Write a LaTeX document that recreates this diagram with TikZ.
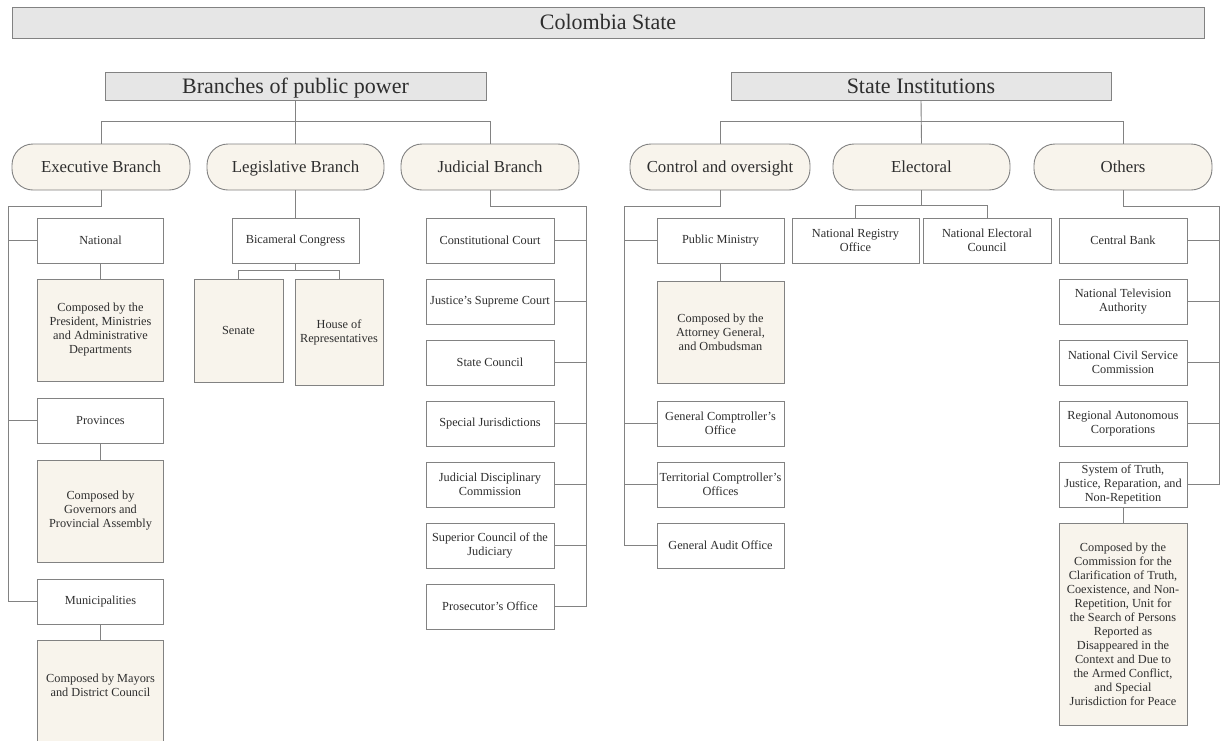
\documentclass[tikz,border=0pt]{standalone}
\usepackage{fontspec}
\setmainfont{Liberation Serif}
\definecolor{lc}{HTML}{828282}
\definecolor{hdfill}{HTML}{E6E6E6}
\definecolor{beige}{HTML}{F8F4EC}
\definecolor{tx}{HTML}{2E2E2E}
\begin{document}
\begin{tikzpicture}[x=1pt,y=-1pt,
  every node/.style={text=tx, inner sep=1pt, align=center},
  hdr/.style={draw=lc, line width=0.9pt, fill=hdfill, font=\fontsize{22}{26}\selectfont, minimum height=#1, text height=17pt, text depth=3pt},
  pill/.style={draw=lc, line width=0.9pt, fill=beige, rounded corners=21pt, minimum height=46pt, minimum width=#1, font=\fontsize{16.8}{20}\selectfont, text height=13pt, text depth=2pt},
  ubox/.style={draw=lc, line width=0.9pt, fill=white, minimum width=#1, minimum height=45pt, font=\fontsize{12.3}{14}\selectfont},
  cbox/.style 2 args={draw=lc, line width=0.9pt, fill=beige, minimum width=#1, minimum height=#2, font=\fontsize{12.3}{14}\selectfont},
  conn/.style={draw=lc, line width=0.9pt}]
\useasboundingbox[fill=white] (0,0) rectangle (1222,740);

% headers
\node[hdr=31pt, minimum width=1192pt] (col) at (608,22.5) {Colombia State};
\node[hdr=28pt, minimum width=381pt] (bpp) at (295.5,86) {Branches of public power};
\node[hdr=28pt, minimum width=380pt] (sti) at (921,86) {State Institutions};

% pills
\node[pill=178pt] (exe) at (101,167) {Executive Branch};
\node[pill=177pt] (leg) at (295.5,167) {Legislative Branch};
\node[pill=178pt] (jud) at (490,167) {Judicial Branch};
\node[pill=180pt] (ctl) at (720,167) {Control and oversight};
\node[pill=177pt] (ele) at (921.5,167) {Electoral};
\node[pill=178pt] (oth) at (1123,167) {Others};

\draw[conn] (bpp.south) -- (leg.north);
\draw[conn] (exe.north) -- ++(0,-22) -| (jud.north);
\draw[conn] (sti.south) -- (ele.north);
\draw[conn] (ctl.north) -- ++(0,-22) -| (oth.north);

% executive
\node[ubox=126pt] (nat) at (100.5,240.5) {National};
\node[cbox={126pt}{102pt}] (natc) at (100.5,330) {Composed by the\\President, Ministries\\and Administrative\\Departments};
\node[ubox=126pt] (prv) at (100.5,420.5) {Provinces};
\node[cbox={126pt}{102pt}] (prvc) at (100.5,511) {Composed by\\Governors and\\Provincial Assembly};
\node[ubox=126pt] (mun) at (100.5,601.5) {Municipalities};
\node[cbox={126pt}{106pt}, anchor=north] (munc) at (100.5,640) {Composed by Mayors\\and District Council\\[2pt]\mbox{}};
\coordinate (etl) at (8,206);
\draw[conn] (exe.south) -- ++(0,16) -| (mun.west -| etl) -- (mun.west);
\draw[conn] (nat.west) -- (nat.west -| etl);
\draw[conn] (prv.west) -- (prv.west -| etl);
\draw[conn] (nat.south) -- (natc.north);
\draw[conn] (prv.south) -- (prvc.north);
\draw[conn] (mun.south) -- (munc.north);

% legislative
\node[ubox=127pt] (bic) at (295.5,240.5) {Bicameral Congress};
\node[cbox={89pt}{103pt}] (sen) at (238.5,330.5) {Senate};
\node[cbox={88pt}{106pt}] (hor) at (339,332) {House of\\Representatives};
\draw[conn] (leg.south) -- (bic.north);
\draw[conn] (bic.south) -- ++(0,8);
\draw[conn] (sen.north) -- ++(0,-8) -| (hor.north);

% judicial
\node[ubox=128pt] (cc) at (490,240.5) {Constitutional Court};
\node[ubox=128pt] (jsc) at (490,301.5) {Justice's Supreme Court};
\node[ubox=128pt] (sc) at (490,362.5) {State Council};
\node[ubox=128pt] (sj) at (490,423.5) {Special Jurisdictions};
\node[ubox=128pt] (jdc) at (490,484.5) {Judicial Disciplinary\\Commission};
\node[ubox=128pt] (scj) at (490,545.5) {Superior Council of the\\Judiciary};
\node[ubox=128pt] (po) at (490,606.5) {Prosecutor's Office};
\coordinate (jtl) at (586,206);
\draw[conn] (jud.south) -- ++(0,16) -| (po.east -| jtl) -- (po.east);
\foreach \n in {cc,jsc,sc,sj,jdc,scj} \draw[conn] (\n.east) -- (\n.east -| jtl);

% control
\node[ubox=127pt] (pm) at (720.5,240.5) {Public Ministry};
\node[cbox={127pt}{102pt}] (pmc) at (720.5,332) {Composed by the\\Attorney General,\\and Ombudsman};
\node[ubox=127pt] (gco) at (720.5,423.5) {General Comptroller's\\Office};
\node[ubox=127pt] (tco) at (720.5,484.5) {Territorial Comptroller's\\Offices};
\node[ubox=127pt] (gao) at (720.5,545.5) {General Audit Office};
\coordinate (ctl0) at (624,206);
\draw[conn] (ctl.south) -- ++(0,16) -| (gao.west -| ctl0) -- (gao.west);
\foreach \n in {pm,gco,tco} \draw[conn] (\n.west) -- (\n.west -| ctl0);
\draw[conn] (pm.south) -- (pmc.north);

% electoral
\node[ubox=127pt] (nro) at (855.5,240.5) {National Registry\\Office};
\node[ubox=128pt] (nec) at (987,240.5) {National Electoral\\Council};
\draw[conn] (ele.south) -- ++(0,16);
\draw[conn] (nro.north) -- ++(0,-12) -| (nec.north);

% others
\node[ubox=128pt] (cb) at (1123,240.5) {Central Bank};
\node[ubox=128pt] (nta) at (1123,301.5) {National Television\\Authority};
\node[ubox=128pt] (ncs) at (1123,362.5) {National Civil Service\\Commission};
\node[ubox=128pt] (rac) at (1123,423.5) {Regional Autonomous\\Corporations};
\node[ubox=128pt] (str) at (1123,484.5) {System of Truth,\\Justice, Reparation, and\\Non-Repetition};
\node[cbox={128pt}{202pt}] (strc) at (1123,624) {Composed by the\\Commission for the\\Clarification of Truth,\\Coexistence, and Non-\\Repetition, Unit for\\the Search of Persons\\Reported as\\Disappeared in the\\Context and Due to\\the Armed Conflict,\\and Special\\Jurisdiction for Peace};
\coordinate (otl) at (1219,206);
\draw[conn] (oth.south) -- ++(0,16) -| (str.east -| otl) -- (str.east);
\foreach \n in {cb,nta,ncs,rac} \draw[conn] (\n.east) -- (\n.east -| otl);
\draw[conn] (str.south) -- (strc.north);
\end{tikzpicture}
\end{document}
